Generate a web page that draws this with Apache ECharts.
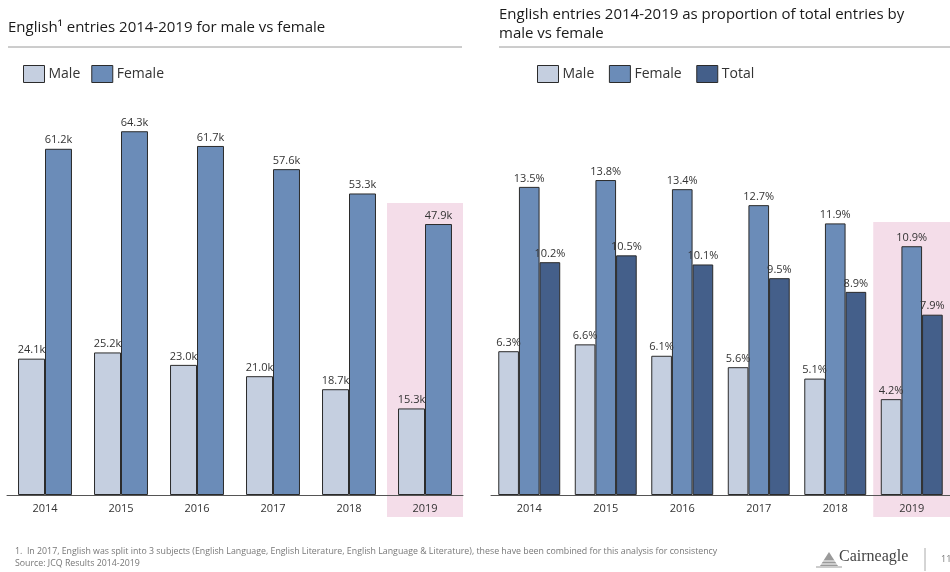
<!DOCTYPE html>
<html>
<head>
<meta charset="utf-8">
<script src="https://cdn.jsdelivr.net/npm/echarts@6/dist/echarts.min.js"></script>
<style>
  html, body { margin: 0; padding: 0; background: #fff; }
  #chart { width: 950px; height: 572px; }
</style>
</head>
<body>
<div id="chart"></div>
<script>
// Years shown on both panels
const years = ['2014', '2015', '2016', '2017', '2018', '2019'];

// English entries (thousands)
const entriesMale = [24.1, 25.2, 23.0, 21.0, 18.7, 15.3];
const entriesFemale = [61.2, 64.3, 61.7, 57.6, 53.3, 47.9];

// English entries as % of all entries
const shareMale = [6.3, 6.6, 6.1, 5.6, 5.1, 4.2];
const shareFemale = [13.5, 13.8, 13.4, 12.7, 11.9, 10.9];
const shareTotal = [10.2, 10.5, 10.1, 9.5, 8.9, 7.9];

const highlightYear = '2019';

const C_MALE = '#c5cfe0';
const C_FEMALE = '#6b8cb8';
const C_TOTAL = '#445f8a';
const C_PINK = '#f4dde9';
const FONT = '"Open Sans", sans-serif';

const chart = echarts.init(document.getElementById('chart'));

const labelStyle = (fmt) => ({
  show: true,
  position: 'top',
  distance: 3,
  fontFamily: FONT,
  fontSize: 11,
  color: '#333',
  formatter: fmt
});

function barSeries(name, data, color, axisIndex, fmt) {
  return {
    name: name,
    type: 'bar',
    xAxisIndex: axisIndex,
    yAxisIndex: axisIndex,
    data: data,
    barGap: '0%',
    barCategoryGap: axisIndex === 0 ? '29%' : '19%',
    itemStyle: { color: color, borderColor: '#2b2b2b', borderWidth: 1 },
    label: labelStyle(fmt),
    z: 3
  };
}

const kFmt = p => p.value.toFixed(1) + 'k';
const pFmt = p => p.value.toFixed(1) + '%';

const xAxisCommon = {
  type: 'category',
  data: years,
  axisTick: { show: false },
  axisLine: { lineStyle: { color: '#555', width: 1 } },
  axisLabel: { fontFamily: FONT, fontSize: 11, color: '#333', margin: 8 },
  z: 5
};

const legendCommon = {
  top: 65,
  padding: 0,
  icon: 'rect',
  itemWidth: 21, itemHeight: 17, itemGap: 11,
  textStyle: { fontFamily: FONT, fontSize: 14, color: '#333', padding: [0, 0, 0, -1] },
  itemStyle: { borderColor: '#2b2b2b', borderWidth: 1 }
};

const option = {
  animation: false,
  legend: [
    Object.assign({ data: ['Male', 'Female'], left: 23 }, legendCommon),
    Object.assign({ data: ['Male ', 'Female ', 'Total'], left: 537 }, legendCommon)
  ],
  grid: [
    { left: 7, width: 456, top: 99, bottom: 77 },
    { left: 491, width: 462, top: 107, bottom: 77 }
  ],
  xAxis: [
    Object.assign({ gridIndex: 0 }, xAxisCommon),
    Object.assign({ gridIndex: 1 }, xAxisCommon)
  ],
  yAxis: [
    { gridIndex: 0, type: 'value', min: 0, max: 70, show: false, splitLine: { show: false } },
    { gridIndex: 1, type: 'value', min: 0, max: 17, show: false, splitLine: { show: false } }
  ],
  series: [
    barSeries('Male', entriesMale, C_MALE, 0, kFmt),
    barSeries('Female', entriesFemale, C_FEMALE, 0, kFmt),
    barSeries('Male ', shareMale, C_MALE, 1, pFmt),
    barSeries('Female ', shareFemale, C_FEMALE, 1, pFmt),
    barSeries('Total', shareTotal, C_TOTAL, 1, pFmt)
  ]
};

chart.setOption(option);

// Page furniture: titles, rules, highlight bands, footnotes, logo
function bandRect(axisIndex, top) {
  const centre = chart.convertToPixel({ xAxisIndex: axisIndex }, highlightYear);
  const step = axisIndex === 0 ? 456 / years.length : 462 / years.length;
  return {
    type: 'rect',
    z: -1,
    silent: true,
    shape: { x: centre - step / 2, y: top, width: step, height: 517 - top },
    style: { fill: C_PINK }
  };
}

const titleStyle = { fontFamily: FONT, fontSize: 15, fill: '#1a1a1a' };

chart.setOption({
  graphic: [
    bandRect(0, 203),
    bandRect(1, 222),
    { type: 'text', left: 8, top: 20, style: Object.assign({ text: 'English¹ entries 2014-2019 for male vs female' }, titleStyle) },
    { type: 'text', left: 499, top: 5, style: Object.assign({ text: 'English entries 2014-2019 as proportion of total entries by\nmale vs female', lineHeight: 19 }, titleStyle) },
    { type: 'line', shape: { x1: 8, y1: 47, x2: 462, y2: 47 }, style: { stroke: '#9a9a9a', lineWidth: 1 } },
    { type: 'line', shape: { x1: 499, y1: 47, x2: 950, y2: 47 }, style: { stroke: '#9a9a9a', lineWidth: 1 } },
    { type: 'text', left: 15, top: 547, style: { text: '1.  In 2017, English was split into 3 subjects (English Language, English Literature, English Language & Literature), these have been combined for this analysis for consistency', fontFamily: FONT, fontSize: 8.8, fill: '#777' } },
    { type: 'text', left: 15, top: 559, style: { text: 'Source: JCQ Results 2014-2019', fontFamily: FONT, fontSize: 8.8, fill: '#777' } },
    // logo mark: stacked triangle
    { type: 'polygon', shape: { points: [[820, 566], [838, 566], [829, 552]] }, style: { fill: '#9a9a9a' } },
    { type: 'line', shape: { x1: 818, y1: 561, x2: 840, y2: 561 }, style: { stroke: '#fff', lineWidth: 1 } },
    { type: 'line', shape: { x1: 818, y1: 564, x2: 840, y2: 564 }, style: { stroke: '#fff', lineWidth: 1 } },
    { type: 'line', shape: { x1: 816, y1: 567, x2: 842, y2: 567 }, style: { stroke: '#9a9a9a', lineWidth: 1 } },
    { type: 'text', left: 839, top: 549, style: { text: 'Cairneagle', fontFamily: '"Liberation Serif", serif', fontSize: 16, fill: '#444' } },
    { type: 'line', shape: { x1: 925, y1: 548, x2: 925, y2: 571 }, style: { stroke: '#aaa', lineWidth: 1 } },
    { type: 'text', left: 941, top: 555, style: { text: '11', fontFamily: FONT, fontSize: 9, fill: '#777' } }
  ]
});
</script>
</body>
</html>
